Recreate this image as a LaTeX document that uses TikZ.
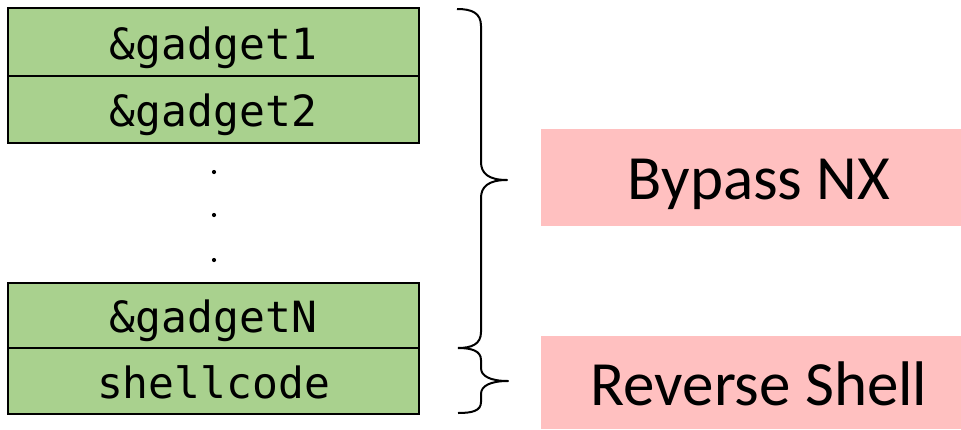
\documentclass[tikz,border=0pt]{standalone}
\usepackage{fontspec}
\setmainfont{Carlito}
\setmonofont{DejaVu Sans Mono}
\definecolor{cellgreen}{HTML}{A9D18E}
\definecolor{labelpink}{HTML}{FFC0C0}
\begin{document}
\begin{tikzpicture}[x=1pt,y=-1pt,
  cell/.style={draw=black,line width=1.8pt,fill=cellgreen,rectangle,inner sep=0pt,
    minimum width=411pt,text height=34pt,text depth=0pt,
    font=\fontsize{43}{50}\selectfont\ttfamily},
  pinkbox/.style={fill=labelpink,rectangle,inner sep=0pt,minimum width=420pt},
  pinktext/.style={anchor=base,inner sep=0pt,font=\fontsize{63}{70}\selectfont},
  brace/.style={draw=black,line width=2pt,line join=round},
  dot/.style={circle,fill=black,inner sep=0pt,minimum size=4.2pt}]
\useasboundingbox (0,0) rectangle (961,429);
% stack cells
\node[cell,minimum height=68pt] (g1) at (213.5,42) {\&gadget1};
\node[cell,minimum height=67pt] (g2) at (213.5,109.5) {\&gadget2};
\node[cell,minimum height=65pt] (gN) at (213.5,315.5) {\&gadgetN};
\node[cell,minimum height=66pt] (sc) at (213.5,381) {shellcode};
% dots
\node[dot] (d1) at (214,172) {};
\node[dot] (d2) at (214,215) {};
\node[dot] (d3) at (214,260) {};
% labels
\node[pinkbox,minimum height=97pt] (bnx) at (751,177.5) {};
\node[pinktext] (bnxt) at (759,199) {Bypass NX};
\node[pinkbox,minimum height=93pt] (rs) at (751,382.5) {};
\node[pinktext] (rst) at (759,405) {Reverse Shell};
% braces
\coordinate (b1top) at (457,9);
\coordinate (b1tip) at (507,180);
\coordinate (b1bot) at (458,348);
\coordinate (b2top) at (458,348);
\coordinate (b2tip) at (508,381);
\coordinate (b2bot) at (458,413);
\draw[brace] (b1top) .. controls (472,9) and (481,13) .. (481,26)
  -- (481,162) .. controls (481,173) and (488,180) .. (b1tip)
  .. controls (488,180) and (481,187) .. (481,198)
  -- (481,332) .. controls (481,344) and (472,348) .. (b1bot);
\draw[brace] (b2top) .. controls (472,348) and (481,351) .. (481,360)
  -- (481,368) .. controls (481,376) and (490,381) .. (b2tip)
  .. controls (490,381) and (481,386) .. (481,394)
  -- (481,402) .. controls (481,411) and (472,413) .. (b2bot);
\end{tikzpicture}
\end{document}
